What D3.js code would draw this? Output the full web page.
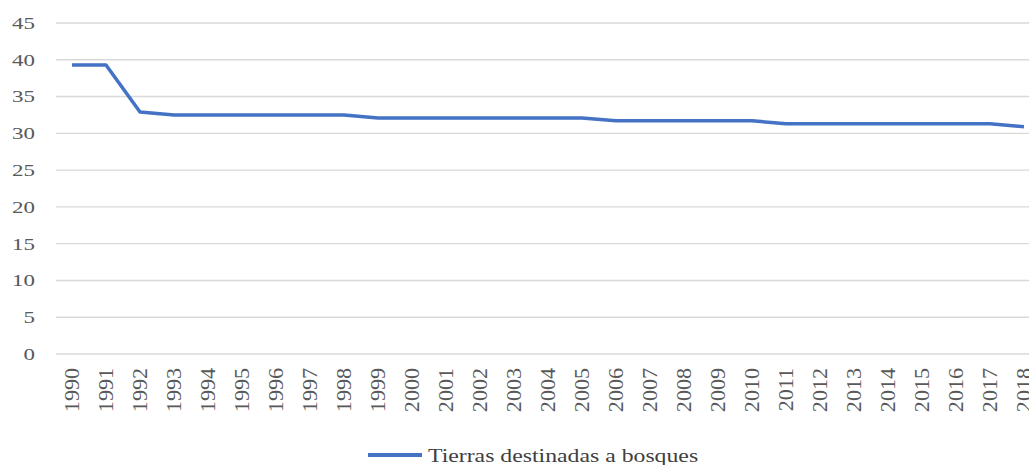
<!DOCTYPE html>
<html>
<head>
<meta charset="utf-8">
<script src="https://cdn.jsdelivr.net/npm/d3@7"></script>
<style>
  html, body { margin: 0; padding: 0; background: #fff; }
  svg { display: block; }
  text { font-family: "Liberation Serif", "Times New Roman", serif; }
</style>
</head>
<body>
<svg id="chart" width="1029" height="465"></svg>
<script>
// Forest land share (%) by year
const years = ["1990","1991","1992","1993","1994","1995","1996","1997","1998","1999",
               "2000","2001","2002","2003","2004","2005","2006","2007","2008","2009",
               "2010","2011","2012","2013","2014","2015","2016","2017","2018"];
const forestLand = [39.3, 39.3, 32.9, 32.5, 32.5, 32.5, 32.5, 32.5, 32.5, 32.1,
                    32.1, 32.1, 32.1, 32.1, 32.1, 32.1, 31.7, 31.7, 31.7, 31.7,
                    31.7, 31.3, 31.3, 31.3, 31.3, 31.3, 31.3, 31.3, 30.9];
const yTicks = [0, 5, 10, 15, 20, 25, 30, 35, 40, 45];
const seriesName = "Tierras destinadas a bosques";

const svg = d3.select("#chart");
const W = 1029;

const x = d3.scalePoint().domain(years).range([72, 1024]);
const y = d3.scaleLinear().domain([0, 45]).range([354, 23]);

// Horizontal gridlines
svg.append("g")
  .selectAll("line")
  .data(yTicks)
  .join("line")
  .attr("x1", 56).attr("x2", W)
  .attr("y1", d => y(d)).attr("y2", d => y(d))
  .attr("stroke", "#d9d9d9")
  .attr("stroke-width", 1.4);

// Y axis labels
svg.append("g")
  .selectAll("text")
  .data(yTicks)
  .join("text")
  .attr("transform", d => `translate(35,${y(d)}) scale(1.35,1)`)
  .attr("text-anchor", "end")
  .attr("dominant-baseline", "central")
  .attr("font-size", 17)
  .attr("fill", "#595959")
  .text(d => d);

// X axis labels (rotated years)
svg.append("g")
  .selectAll("text")
  .data(years)
  .join("text")
  .attr("transform", d => `translate(${x(d)},368) rotate(-90) scale(1.3,1.2)`)
  .attr("text-anchor", "end")
  .attr("dominant-baseline", "central")
  .attr("font-size", 17)
  .attr("fill", "#595959")
  .text(d => d);

// Series line
const line = d3.line()
  .x((d, i) => x(years[i]))
  .y(d => y(d));

svg.append("path")
  .datum(forestLand)
  .attr("d", line)
  .attr("fill", "none")
  .attr("stroke", "#4472c4")
  .attr("stroke-width", 3.5)
  .attr("stroke-linejoin", "round");

// Legend
const legend = svg.append("g");
legend.append("line")
  .attr("x1", 368).attr("x2", 422)
  .attr("y1", 455).attr("y2", 455)
  .attr("stroke", "#4472c4")
  .attr("stroke-width", 4);
legend.append("text")
  .attr("transform", "translate(428,462) scale(1.32,1)")
  .attr("font-size", 18)
  .attr("fill", "#404040")
  .text(seriesName);
</script>
</body>
</html>
